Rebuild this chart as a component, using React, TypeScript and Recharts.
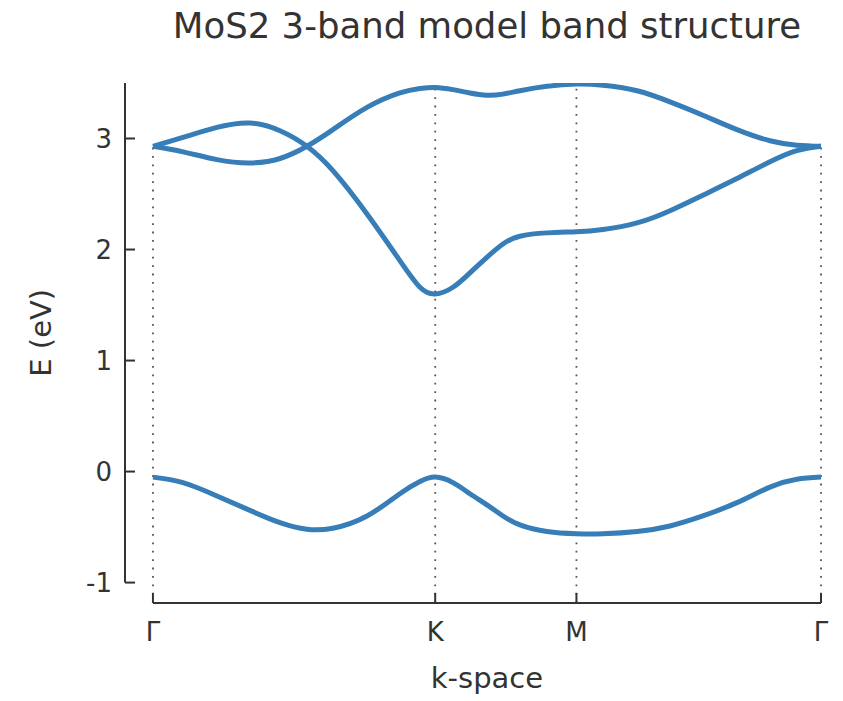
import React from 'react';
import { LineChart, Line, XAxis, YAxis, ReferenceLine, Label } from 'recharts';

// Path length along Γ → K → M → Γ (ΓK = 4/3, KM = 2/3, MΓ = 2/√3)
const kPath = [
  0, 0.142, 0.302, 0.458, 0.6, 0.727, 0.85, 1.011, 1.166, 1.261, 1.333, 1.417, 1.497,
  1.577, 1.653, 1.733, 1.861, 2.0, 2.125, 2.286, 2.442, 2.597, 2.758, 2.914, 3.041, 3.155,
];

// Band energies (eV) sampled along kPath
const band1 = [
  -0.05, -0.1, -0.22, -0.35, -0.46, -0.52, -0.51, -0.4, -0.2, -0.09, -0.05, -0.1, -0.2,
  -0.3, -0.4, -0.48, -0.54, -0.56, -0.56, -0.54, -0.49, -0.4, -0.28, -0.14, -0.07, -0.05,
];
const band2 = [
  2.93, 3.01, 3.1, 3.14, 3.07, 2.93, 2.71, 2.32, 1.9, 1.66, 1.6, 1.66, 1.79,
  1.93, 2.05, 2.12, 2.15, 2.16, 2.18, 2.24, 2.35, 2.49, 2.64, 2.79, 2.89, 2.93,
];
const band3 = [
  2.93, 2.88, 2.81, 2.78, 2.82, 2.93, 3.08, 3.28, 3.41, 3.45, 3.46, 3.44, 3.41,
  3.39, 3.4, 3.43, 3.47, 3.49, 3.48, 3.43, 3.33, 3.21, 3.08, 2.98, 2.94, 2.93,
];

// High-symmetry points
const symPoints = [0, 1.333, 2.0, 3.155];
const symLabels = ['Γ', 'K', 'M', 'Γ'];

const energyTicks = [-1, 0, 1, 2, 3];
const kDomain: [number, number] = [-0.132, 3.155];
const eDomain: [number, number] = [-1.184, 3.5];
const spineBounds: [number, number] = [-1, 3.5];

const rows = kPath.map((k, i) => ({ k, b1: band1[i], b2: band2[i], b3: band3[i] }));

const W = 843;
const H = 701;
const MARGIN = { top: 83, right: 22, bottom: 0, left: 0 };
const Y_AXIS_W = 125;
const X_AXIS_H = 98;
const FONT = '"DejaVu Sans", sans-serif';
const INK = '#333333';
const BLUE = '#377eb8';

const plotLeft = MARGIN.left + Y_AXIS_W;
const plotWidth = W - plotLeft - MARGIN.right;
const plotTop = MARGIN.top;
const plotHeight = H - plotTop - X_AXIS_H - MARGIN.bottom;
const xPix = (k: number) => plotLeft + ((k - kDomain[0]) / (kDomain[1] - kDomain[0])) * plotWidth;
const yPix = (e: number) => plotTop + ((eDomain[1] - e) / (eDomain[1] - eDomain[0])) * plotHeight;

const topAt = (k: number) => {
  const i = kPath.indexOf(k);
  return Math.max(band1[i], band2[i], band3[i]);
};

export default function App() {
  const xLabelX = (xPix(symPoints[0]) + xPix(symPoints[symPoints.length - 1])) / 2;
  const yLabelY = (yPix(spineBounds[0]) + yPix(spineBounds[1])) / 2;
  return (
    <div style={{ position: 'absolute', left: 0, top: 0, width: W, height: H, fontFamily: FONT, background: '#fff' }}>
      <div
        style={{
          position: 'absolute',
          left: xLabelX - 400,
          width: 800,
          top: 8,
          textAlign: 'center',
          fontSize: 35.5,
          lineHeight: '35px',
          color: INK,
        }}
      >
        MoS2 3-band model band structure
      </div>
      <LineChart width={W} height={H} data={rows} margin={MARGIN}>
        <XAxis
          dataKey="k"
          type="number"
          domain={kDomain}
          ticks={symPoints}
          interval={0}
          tickFormatter={(_v: number, i: number) => symLabels[i]}
          axisLine={false}
          tickLine={{ stroke: INK, strokeWidth: 2 }}
          tickSize={-10}
          tickMargin={30}
          height={X_AXIS_H}
          tick={{ fill: INK, fontSize: 26 }}
        >
          <Label
            content={() => (
              <text x={xLabelX} y={688} textAnchor="middle" fill={INK} fontSize={29}>
                k-space
              </text>
            )}
          />
        </XAxis>
        <YAxis
          type="number"
          domain={eDomain}
          ticks={energyTicks}
          interval={0}
          allowDataOverflow
          axisLine={false}
          tickLine={{ stroke: INK, strokeWidth: 2 }}
          tickSize={-10}
          tickMargin={23}
          width={Y_AXIS_W}
          tick={{ fill: INK, fontSize: 26 }}
        >
          <Label
            content={() => (
              <text
                x={51}
                y={yLabelY}
                textAnchor="middle"
                fill={INK}
                fontSize={29}
                transform={`rotate(-90, 51, ${yLabelY})`}
              >
                E (eV)
              </text>
            )}
          />
        </YAxis>

        {/* dotted guides at the high-symmetry points, up to the top band */}
        {symPoints.map((k, i) => (
          <ReferenceLine
            key={`sym-${i}`}
            segment={[
              { x: k, y: eDomain[0] },
              { x: k, y: topAt(k) },
            ]}
            stroke="#555"
            strokeWidth={1.8}
            strokeDasharray="1.8 6.6"
            ifOverflow="visible"
          />
        ))}

        {/* spines */}
        <ReferenceLine
          segment={[
            { x: kDomain[0], y: spineBounds[0] },
            { x: kDomain[0], y: spineBounds[1] },
          ]}
          stroke={INK}
          strokeWidth={2}
          ifOverflow="visible"
        />
        <ReferenceLine
          segment={[
            { x: symPoints[0], y: eDomain[0] },
            { x: symPoints[symPoints.length - 1], y: eDomain[0] },
          ]}
          stroke={INK}
          strokeWidth={2}
          ifOverflow="visible"
        />

        <Line dataKey="b1" type="natural" stroke={BLUE} strokeWidth={5} dot={false} isAnimationActive={false} />
        <Line dataKey="b2" type="natural" stroke={BLUE} strokeWidth={5} dot={false} isAnimationActive={false} />
        <Line dataKey="b3" type="natural" stroke={BLUE} strokeWidth={5} dot={false} isAnimationActive={false} />
      </LineChart>
    </div>
  );
}
